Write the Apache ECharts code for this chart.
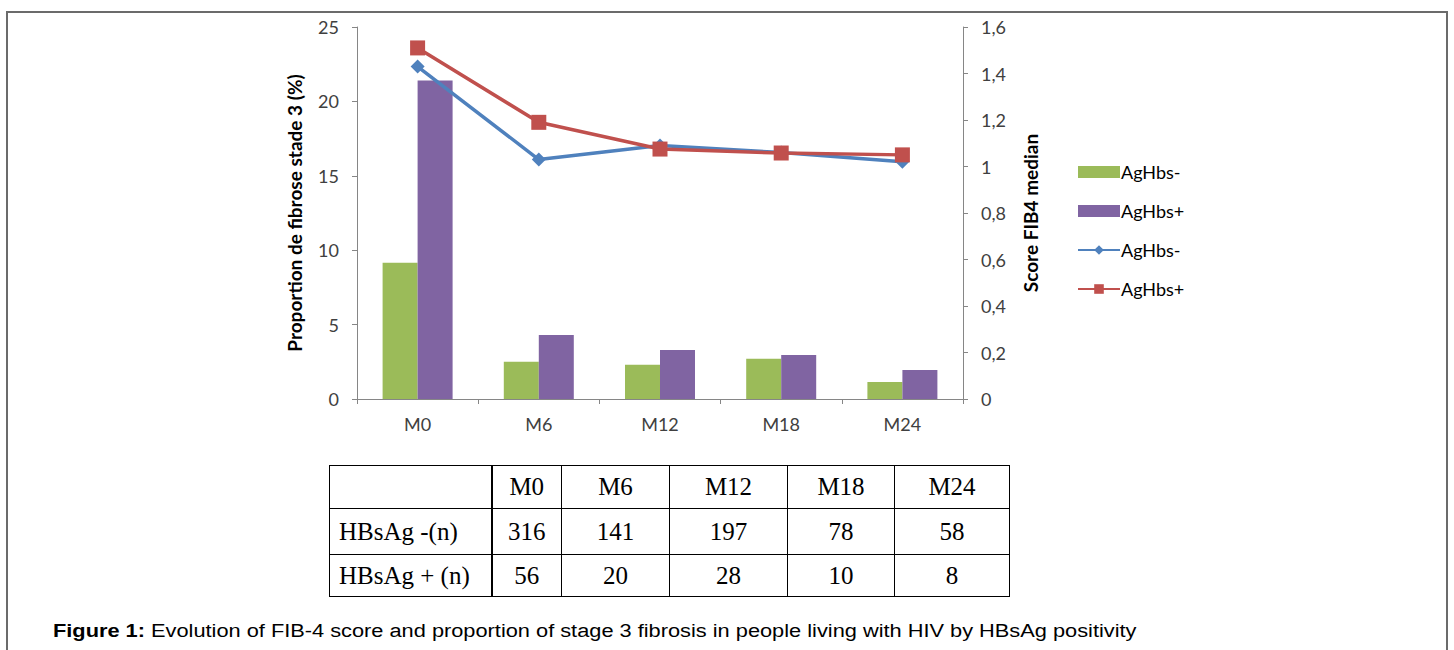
<!DOCTYPE html>
<html>
<head>
<meta charset="utf-8">
<script src="https://cdn.jsdelivr.net/npm/echarts@6/dist/echarts.min.js"></script>
<style>
  body { margin: 0; background: #fff; }
  #wrap { position: relative; width: 1454px; height: 650px; overflow: hidden; }
  #frame { position: absolute; left: 6px; top: 11px; width: 1438px; height: 700px;
           border: 2px solid #6b6b6b; border-bottom: none; }
  #chart { position: absolute; left: 0; top: 0; width: 1454px; height: 650px; }
  #counts { position: absolute; left: 329px; top: 465px; width: 680px; border-collapse: collapse;
            table-layout: fixed; font-family: "Liberation Serif", serif; font-size: 25px; color: #000; }
  #counts td { border: 1.5px solid #000; padding: 0; text-align: center; box-sizing: border-box; }
  #counts td.lab { text-align: left; padding-left: 9px; border-right-width: 2.5px; }
  #caption { position: absolute; left: 53px; top: 621px; font-family: "Liberation Sans", Arial, sans-serif;
             font-size: 18px; color: #000; white-space: nowrap;
             transform: scaleX(1.21); transform-origin: left top; }
</style>
</head>
<body>
<div id="wrap">
  <div id="frame"></div>
  <div id="chart"></div>
  <table id="counts"></table>
  <div id="caption"><b>Figure 1:</b> Evolution of FIB-4 score and proportion of stage 3 fibrosis in people living with HIV by HBsAg positivity</div>
</div>
<script>
// visites
var categories = ['M0', 'M6', 'M12', 'M18', 'M24'];

// proportion de fibrose stade 3 (%)
var fibroseNeg = [9.15, 2.5, 2.3, 2.7, 1.15];
var fibrosePos = [21.4, 4.3, 3.3, 2.95, 1.95];

// score FIB4 median
var fib4Neg = [1.43, 1.03, 1.09, 1.06, 1.02];
var fib4Pos = [1.51, 1.19, 1.075, 1.058, 1.05];

// effectifs
var rowLabels = ['HBsAg -(n)', 'HBsAg + (n)'];
var countNeg = [316, 141, 197, 78, 58];
var countPos = [56, 20, 28, 10, 8];

var colWidths = [162, 70, 108, 118, 107, 115];
var rowHeights = [43, 46, 42];

/* tableau des effectifs */
function buildTable() {
    var table = document.getElementById('counts');
    var rows = [[''].concat(categories), [rowLabels[0]].concat(countNeg), [rowLabels[1]].concat(countPos)];
    var html = '<colgroup>';
    for (var k = 0; k < colWidths.length; k++) {
        html += '<col style="width:' + colWidths[k] + 'px">';
    }
    html += '</colgroup>';
    for (var r = 0; r < rows.length; r++) {
        html += '<tr style="height:' + rowHeights[r] + 'px">';
        for (var c = 0; c < rows[r].length; c++) {
            html += '<td' + (c === 0 ? ' class="lab"' : '') + '>' + rows[r][c] + '</td>';
        }
        html += '</tr>';
    }
    table.innerHTML = html;
}
buildTable();

var chart = echarts.init(document.getElementById('chart'), null, { renderer: 'svg' });
var axisFont = 'Lato, "Open Sans", sans-serif';

var option = {
    animation: false,
    textStyle: { fontFamily: axisFont },
    grid: { left: 357, right: 491, top: 27, bottom: 251, containLabel: false },
    legend: {
        orient: 'vertical',
        left: 1072,
        top: 158,
        itemWidth: 42,
        itemHeight: 12,
        itemGap: 21,
        textStyle: { fontSize: 18, color: '#000', fontFamily: axisFont, padding: [0, 0, 0, -4] },
        data: [
            { name: 'AgHbs-', icon: 'rect' },
            { name: 'AgHbs+', icon: 'rect' },
            { name: 'AgHbs- ' },
            { name: 'AgHbs+ ' }
        ]
    },
    xAxis: {
        type: 'category',
        data: categories,
        boundaryGap: true,
        axisLine: { lineStyle: { color: '#868686', width: 1 } },
        axisTick: { show: true, length: 5, lineStyle: { color: '#868686' } },
        axisLabel: { fontSize: 18, color: '#404040', margin: 16 },
        splitLine: { show: false }
    },
    yAxis: [
        {
            type: 'value',
            min: 0, max: 25, interval: 5,
            name: 'Proportion de fibrose stade 3 (%)',
            nameLocation: 'middle',
            nameGap: 53,
            nameTextStyle: { fontSize: 19, fontWeight: 'bold', color: '#000' },
            axisLine: { show: true, lineStyle: { color: '#868686' } },
            axisTick: { show: true, length: 5, lineStyle: { color: '#868686' } },
            axisLabel: { fontSize: 18, color: '#404040', margin: 18 },
            splitLine: { show: false }
        },
        {
            type: 'value',
            min: 0, max: 1.6, interval: 0.2,
            position: 'right',
            name: 'Score FIB4 median',
            nameLocation: 'middle',
            nameGap: 58,
            nameRotate: 90,
            nameTextStyle: { fontSize: 19, fontWeight: 'bold', color: '#000' },
            axisLine: { show: true, lineStyle: { color: '#868686' } },
            axisTick: { show: true, length: 5, lineStyle: { color: '#868686' } },
            axisLabel: {
                fontSize: 18, color: '#404040', margin: 18,
                formatter: function(v) {
                    return String(Number(v.toFixed(1))).replace('.', ',');
                }
            },
            splitLine: { show: false }
        }
    ],
    series: [
        {
            name: 'AgHbs-',
            type: 'bar',
            yAxisIndex: 0,
            barWidth: 35,
            barGap: '0%',
            itemStyle: { color: '#9BBB59' },
            data: fibroseNeg
        },
        {
            name: 'AgHbs+',
            type: 'bar',
            yAxisIndex: 0,
            barWidth: 35,
            barGap: '0%',
            itemStyle: { color: '#8064A2' },
            data: fibrosePos
        },
        {
            name: 'AgHbs- ',
            type: 'line',
            yAxisIndex: 1,
            symbol: 'diamond',
            symbolSize: 14,
            lineStyle: { color: '#4F81BD', width: 3.5 },
            itemStyle: { color: '#4F81BD' },
            data: fib4Neg
        },
        {
            name: 'AgHbs+ ',
            type: 'line',
            yAxisIndex: 1,
            symbol: 'rect',
            symbolSize: 15,
            lineStyle: { color: '#C0504D', width: 3.5 },
            itemStyle: { color: '#C0504D' },
            data: fib4Pos
        }
    ]
};

chart.setOption(option);
</script>
</body>
</html>
